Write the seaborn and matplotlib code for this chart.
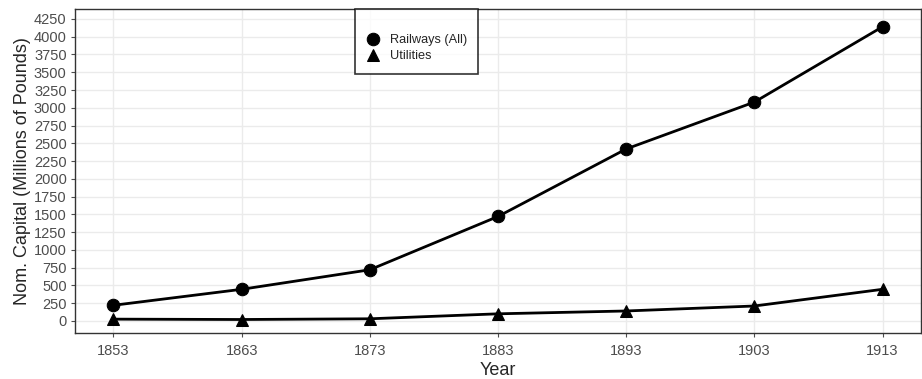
import pandas as pd
import numpy as np
import matplotlib
matplotlib.use('Agg')
import matplotlib.pyplot as plt
import seaborn as sns

years = [1853, 1863, 1873, 1883, 1893, 1903, 1913]
railways = [220, 445, 720, 1470, 2420, 3080, 4140]
utilities = [25, 20, 30, 100, 140, 210, 445]

df = pd.DataFrame({
    'Year': years * 2,
    'Capital': railways + utilities,
    'Series': ['Railways (All)'] * len(years) + ['Utilities'] * len(years),
})

sns.set_style('whitegrid')
plt.rcParams['font.family'] = ['Liberation Sans', 'DejaVu Sans']

fig = plt.figure(figsize=(9.22, 3.79), dpi=100)
ax = fig.add_axes([75 / 922, 1 - 333 / 379, (921 - 75) / 922, (333 - 9) / 379])

sns.lineplot(data=df, x='Year', y='Capital', style='Series', markers=['o', '^'],
             dashes=False, color='black', linewidth=2, markersize=9,
             markeredgecolor='black', ax=ax)

ax.set_xlim(1850, 1916)
ax.set_ylim(-170, 4390)
ax.set_xticks(years)
ax.set_yticks(np.arange(0, 4251, 250))
ax.tick_params(axis='both', labelsize=10.5, colors='#4d4d4d', length=3, width=0.8,
               left=True, bottom=True, pad=3)
ax.tick_params(axis='x', pad=5)
ax.set_xlabel('Year', fontsize=13, labelpad=3)
ax.set_ylabel('Nom. Capital (Millions of Pounds)', fontsize=13, labelpad=2)
ax.grid(color='#ebebeb', linewidth=1)
for s in ax.spines.values():
    s.set_color('#333333')
    s.set_linewidth(1)

leg = ax.legend(loc='upper left', bbox_to_anchor=(355 / 922, 1 - 9 / 379),
                bbox_transform=fig.transFigure, fontsize=9.2, title=' ',
                title_fontsize=7, frameon=True, fancybox=False, borderpad=0.9,
                borderaxespad=0, handlelength=1.0, labelspacing=0.3,
                handletextpad=0.8)
leg.get_frame().set_edgecolor('black')
leg.get_frame().set_linewidth(1.2)
for h in leg.get_lines():
    h.set_linestyle('none')
    h.set_markersize(9)

fig.savefig('out.png', dpi=100)
